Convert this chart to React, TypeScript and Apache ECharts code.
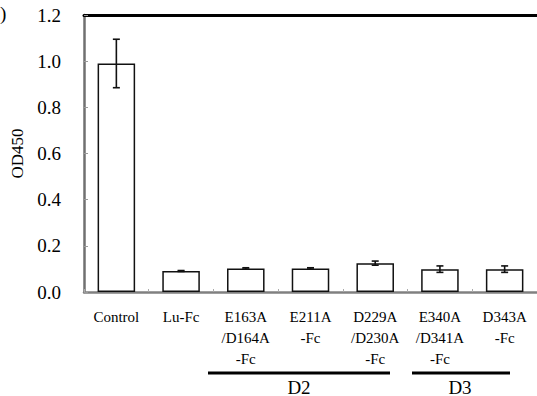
import React, { useEffect, useRef } from "react";
import * as echarts from "echarts";

const categories = [
  "Control",
  "Lu-Fc",
  "E163A\n/D164A\n-Fc",
  "E211A\n-Fc",
  "D229A\n/D230A\n-Fc",
  "E340A\n/D341A\n-Fc",
  "D343A\n-Fc",
];
const means = [0.99, 0.091, 0.102, 0.102, 0.125, 0.099, 0.099];
const errors = [0.105, 0.002, 0.003, 0.003, 0.009, 0.014, 0.014];
const yTicks = { min: 0, max: 1.2, interval: 0.2 };
const groups = [
  { name: "D2", x1: 208, x2: 390, tx: 299 },
  { name: "D3", x1: 412, x2: 510, tx: 460 },
];

const FONT = "Liberation Serif";

export default function App() {
  const ref = useRef<HTMLDivElement>(null);
  useEffect(() => {
    if (!ref.current) return;
    const chart = echarts.init(ref.current, null, { renderer: "svg" });
    const errData = means.map((m, i) => [i, m - errors[i], m + errors[i]]);
    chart.setOption({
      animation: false,
      backgroundColor: "#fff",
      grid: { left: 84, right: -2, top: 15, bottom: 104, containLabel: false },
      xAxis: [
        {
          type: "category",
          data: categories,
          axisLine: { lineStyle: { color: "#808080", width: 2.5 } },
          axisTick: { show: true, inside: true, length: 3, lineStyle: { color: "#aaa", width: 1 } },
          axisLabel: {
            interval: 0,
            color: "#000",
            fontFamily: FONT,
            fontSize: 15,
            lineHeight: 21,
            margin: 14,
            verticalAlign: "top",
          },
        },
        {
          type: "category",
          position: "top",
          data: categories,
          axisLine: { lineStyle: { color: "#000", width: 3 } },
          axisTick: { show: false },
          axisLabel: { show: false },
        },
      ],
      yAxis: {
        type: "value",
        min: yTicks.min,
        max: yTicks.max,
        interval: yTicks.interval,
        name: "OD450",
        nameLocation: "middle",
        nameGap: 56,
        nameTextStyle: { color: "#000", fontFamily: FONT, fontSize: 17 },
        axisLine: { show: true, lineStyle: { color: "#707070", width: 2.5 } },
        axisTick: { show: true, inside: true, length: 4, lineStyle: { color: "#999", width: 1 } },
        splitLine: { show: false },
        axisLabel: {
          color: "#000",
          fontFamily: FONT,
          fontSize: 19,
          margin: 23,
          formatter: (v: number) => v.toFixed(1),
        },
      },
      series: [
        {
          type: "bar",
          data: means,
          barWidth: "58%",
          itemStyle: { color: "#fff", borderColor: "#111", borderWidth: 1.5 },
        },
        {
          type: "custom",
          data: errData,
          z: 10,
          renderItem: (params: any, api: any) => {
            const x = api.value(0);
            const lo = api.coord([x, api.value(1)]);
            const hi = api.coord([x, api.value(2)]);
            const w = 3.5;
            const style = { stroke: "#111", lineWidth: 1.6 };
            return {
              type: "group",
              children: [
                { type: "line", shape: { x1: lo[0], y1: lo[1], x2: hi[0], y2: hi[1] }, style },
                { type: "line", shape: { x1: lo[0] - w, y1: lo[1], x2: lo[0] + w, y2: lo[1] }, style },
                { type: "line", shape: { x1: hi[0] - w, y1: hi[1], x2: hi[0] + w, y2: hi[1] }, style },
              ],
            };
          },
        },
      ],
      graphic: [
        {
          type: "text",
          left: 0,
          top: 4,
          style: { text: ")", fill: "#000", fontFamily: FONT, fontSize: 19 },
        },
        ...groups.flatMap((g) => [
          {
            type: "line",
            shape: { x1: g.x1, y1: 373, x2: g.x2, y2: 373 },
            style: { stroke: "#000", lineWidth: 3 },
          },
          {
            type: "text",
            x: g.tx,
            y: 387,
            style: {
              text: g.name,
              fill: "#000",
              fontFamily: FONT,
              fontSize: 19,
              align: "center",
              verticalAlign: "middle",
            },
          },
        ]),
      ],
    });
    return () => chart.dispose();
  }, []);
  return <div ref={ref} style={{ width: 537, height: 396, position: "absolute", left: 0, top: 0 }} />;
}
